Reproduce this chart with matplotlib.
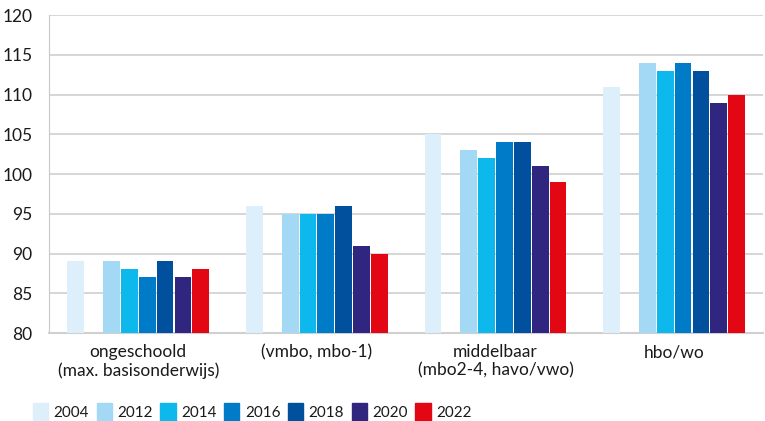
import matplotlib.pyplot as plt
from matplotlib.patches import Rectangle
import numpy as np

# data
categorieen = ["ongeschoold\n(max. basisonderwijs)", "(vmbo, mbo-1)\n",
               "middelbaar\n(mbo2-4, havo/vwo)", "hbo/wo\n"]
jaren = ["2004", "2012", "2014", "2016", "2018", "2020", "2022"]
waarden_2004 = [89, 96, 105, 111]
waarden_2012 = [89, 95, 103, 114]
waarden_2014 = [88, 95, 102, 113]
waarden_2016 = [87, 95, 104, 114]
waarden_2018 = [89, 96, 104, 113]
waarden_2020 = [87, 91, 101, 109]
waarden_2022 = [88, 90, 99, 110]
reeksen = [waarden_2004, waarden_2012, waarden_2014, waarden_2016,
           waarden_2018, waarden_2020, waarden_2022]
kleuren = ["#DDEFFB", "#A3D9F5", "#0DB8EC", "#007BC7", "#01509E", "#30257F", "#E30613"]
# slot 1 is leeg (geen data tussen 2004 en 2012)
slots = [0, 2, 3, 4, 5, 6, 7]

plt.rcParams["font.family"] = ["Lato", "DejaVu Sans"]

fig = plt.figure(figsize=(7.65, 4.21), dpi=100)
ax = fig.add_axes([0.064, 0.209, 0.934, 0.755])

x = np.arange(len(categorieen))
slot_breedte = 0.8 / 8
for i, (waarden, kleur) in enumerate(zip(reeksen, kleuren)):
    pos = x - 0.4 + slot_breedte * (slots[i] + 0.5)
    ax.bar(pos, np.array(waarden) - 80, bottom=80, width=slot_breedte * 0.94,
           color=kleur, zorder=3)

ax.set_xlim(-0.5, len(categorieen) - 0.5)
ax.set_ylim(80, 120)
ax.set_yticks(range(80, 121, 5))
ax.set_xticks(x)
ax.set_xticklabels(categorieen, fontsize=12.5, color="#1a1a1a", linespacing=1.15)
ax.tick_params(axis="y", labelsize=12.5, colors="#1a1a1a", length=0, pad=12)
ax.tick_params(axis="x", length=0, pad=8)
ax.grid(axis="y", color="#d0d0d0", linewidth=1.2, zorder=0)
for kant in ["top", "right"]:
    ax.spines[kant].set_visible(False)
ax.spines["left"].set_color("#c8c8c8")
ax.spines["bottom"].set_color("#d0d0d0")
ax.spines["bottom"].set_linewidth(1.5)

handles = [Rectangle((0, 0), 1, 1, color=k) for k in kleuren]
fig.legend(handles, jaren, loc="lower left", bbox_to_anchor=(0.043, 0.0),
           ncol=7, frameon=False, borderpad=0, borderaxespad=0,
           prop={"family": "Lato", "size": 11},
           labelcolor="#1a1a1a",
           handlelength=1.0, handleheight=1.45, handletextpad=0.35,
           columnspacing=0.5)

fig.savefig("out.png", dpi=100)
